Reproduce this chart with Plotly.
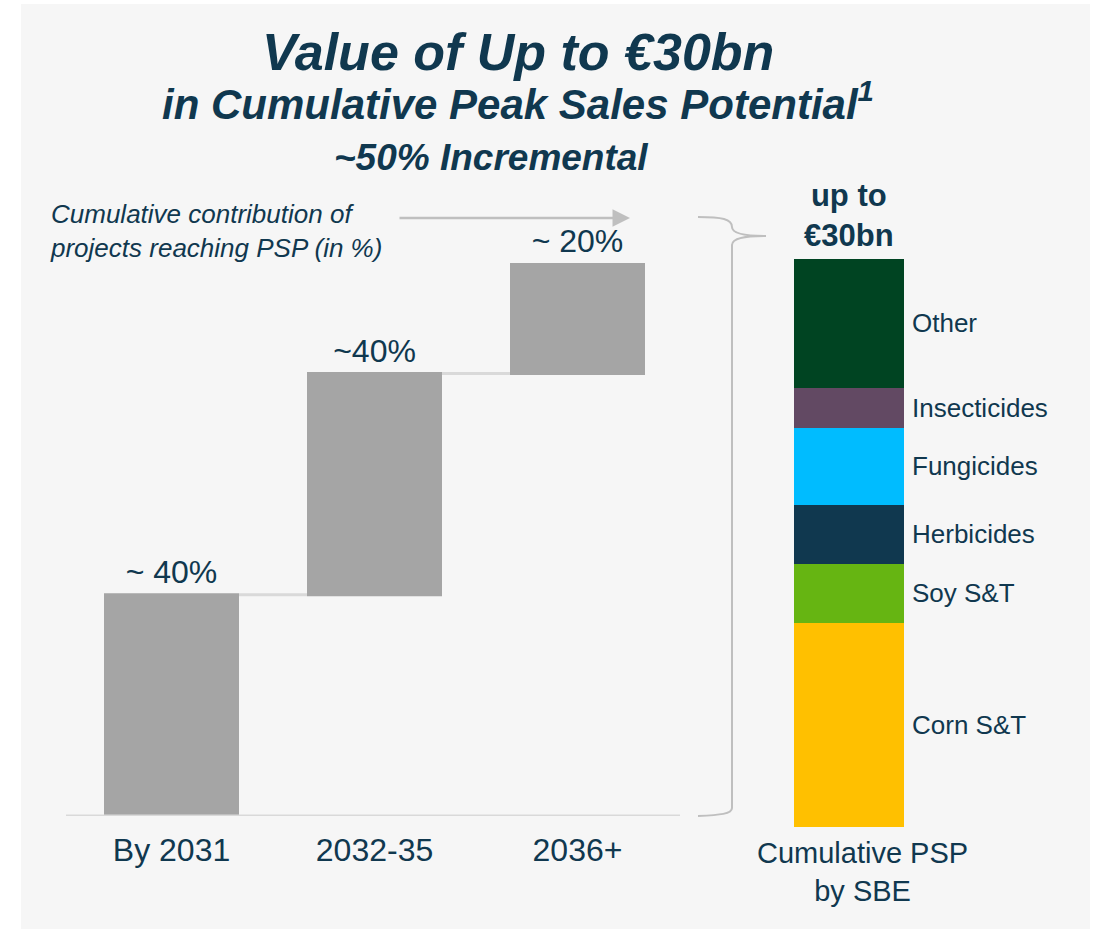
import plotly.graph_objects as go

# data
periods = ["By 2031", "2032-35", "2036+"]
psp_share = [40, 40, 20]  # cumulative contribution of projects reaching PSP, in %
share_labels = ["~ 40%", "~40%", "~ 20%"]

segments = ["Corn S&T", "Soy S&T", "Herbicides", "Fungicides", "Insecticides", "Other"]
segment_values = [10.8, 3.1, 3.1, 4.1, 2.1, 6.8]  # EUR bn, total up to 30
segment_colors = ["#FFC000", "#66B512", "#10384F", "#00BCFF", "#624963", "#004422"]

W, H = 1097, 929
NAVY = "#10384F"
FONT = "Liberation Sans, Arial, sans-serif"

def px(x):  # pixel -> paper
    return x / W

def py(y):
    return 1 - y / H

fig = go.Figure()

# left: waterfall of cumulative contribution
fig.add_trace(go.Waterfall(
    x=periods, y=psp_share, measure=["relative"] * 3,
    text=share_labels, textposition="outside", cliponaxis=False,
    textfont=dict(size=32, color=NAVY, family=FONT),
    increasing=dict(marker=dict(color="#A5A5A5", line=dict(width=0))),
    connector=dict(line=dict(color="#D9D9D9", width=3)),
    xaxis="x", yaxis="y", showlegend=False, hoverinfo="skip",
))

# right: stacked bar by SBE
for name, val, col in zip(segments, segment_values, segment_colors):
    fig.add_trace(go.Bar(
        x=["Cumulative PSP by SBE"], y=[val], name=name,
        marker=dict(color=col, line=dict(width=0)),
        xaxis="x2", yaxis="y2", showlegend=False, hoverinfo="skip",
    ))

# labels next to each segment, at its middle
annotations = []
bottom = 0
for name, val in zip(segments, segment_values):
    annotations.append(dict(
        x=px(910), xref="paper", xanchor="left",
        y=bottom + val / 2, yref="y2", yanchor="middle",
        text=name, showarrow=False, font=dict(size=26, color=NAVY, family=FONT),
    ))
    bottom += val

def note(text, x, y, size, xanchor="center", align="center"):
    annotations.append(dict(
        x=px(x), y=py(y), xref="paper", yref="paper", xanchor=xanchor, yanchor="middle",
        text=text, showarrow=False, align=align,
        font=dict(size=size, color=NAVY, family=FONT),
    ))

note("<b><i>Value of Up to €30bn</i></b>", 518, 52, 52)
note("<b><i>in Cumulative Peak Sales Potential<sup>1</sup></i></b>", 518, 101, 42)
note("<b><i>~50% Incremental</i></b>", 491, 157, 37)
note("<i>Cumulative contribution of<br>projects reaching PSP (in %)</i>", 48, 231, 26,
     xanchor="left", align="left")
note("<b>up to<br>€30bn</b>", 849, 216, 31)
note("Cumulative PSP<br>by SBE", 862, 872, 29)

# arrow over the waterfall
annotations.append(dict(
    x=px(630), y=py(218), xref="paper", yref="paper",
    ax=-232, ay=0, text="", showarrow=True,
    arrowhead=2, arrowsize=1.4, arrowwidth=2.5, arrowcolor="#BFBFBF",
))

# curly brace linking waterfall to stacked bar
def P(x, y):
    return f"{px(x):.5f},{py(y):.5f}"

brace = (
    f"M {P(698, 217)} C {P(722, 217)} {P(732, 219)} {P(732, 227)} "
    f"C {P(732, 233)} {P(745, 236)} {P(766, 236)} "
    f"M {P(766, 236)} C {P(745, 236)} {P(732, 238)} {P(732, 245)} "
    f"L {P(732, 808)} C {P(732, 814)} {P(720, 815)} {P(698, 816)}"
)

shapes = [
    dict(type="rect", xref="paper", yref="paper", x0=px(21), x1=px(1090), y0=0, y1=py(4),
         fillcolor="#F6F6F6", line=dict(width=0), layer="below"),
    dict(type="line", xref="paper", yref="y", x0=px(66), x1=px(680), y0=0, y1=0,
         line=dict(color="#D9D9D9", width=3)),
    dict(type="path", xref="paper", yref="paper", path=brace,
         line=dict(color="#BFBFBF", width=2)),
]

fig.update_layout(
    width=W, height=H,
    margin=dict(l=0, r=0, t=0, b=0),
    paper_bgcolor="white", plot_bgcolor="rgba(0,0,0,0)",
    font=dict(family=FONT, color=NAVY),
    barmode="stack", bargap=0, waterfallgap=0.335,
    xaxis=dict(domain=[px(70), px(679)], showgrid=False, zeroline=False, showline=False,
               ticks="", tickfont=dict(size=32, color=NAVY), ticklabelstandoff=12,
               fixedrange=True),
    yaxis=dict(domain=[py(816), py(263)], range=[0, 100], visible=False, fixedrange=True),
    xaxis2=dict(domain=[px(794), px(904)], anchor="y2", showticklabels=False,
                showgrid=False, zeroline=False, showline=False, fixedrange=True),
    yaxis2=dict(domain=[py(827), py(259)], range=[0, 30], anchor="x2", visible=False,
                fixedrange=True),
    annotations=annotations,
    shapes=shapes,
)

# drop the default page margin so the figure sits at the window's top-left corner
fig.write_html("out.html", config=dict(displayModeBar=False),
               post_script="document.body.style.margin='0';document.body.style.overflow='hidden';")
